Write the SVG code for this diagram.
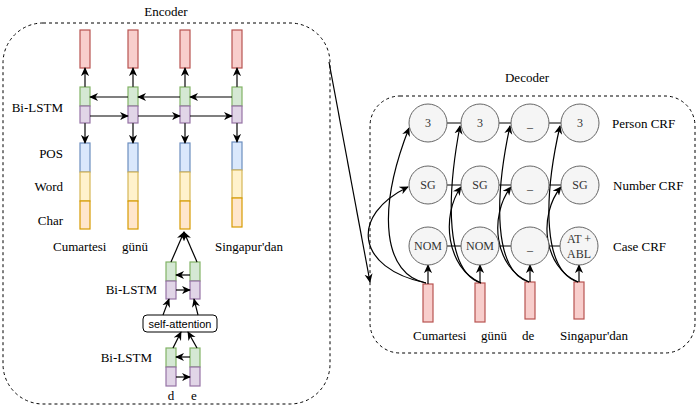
<svg xmlns="http://www.w3.org/2000/svg" width="698" height="411" viewBox="0 0 698 411">
<style>
text{font-family:"Liberation Serif","Times New Roman",serif;font-size:13px;fill:#000}
.ct{font-size:12px;fill:#333;text-anchor:middle}
.sa{font-family:"Liberation Sans",Arial,sans-serif;font-size:11px;text-anchor:middle}
.box{fill:none;stroke:#000;stroke-dasharray:3 3;stroke-width:1}
.red{fill:#f8cecc;stroke:#b85450;stroke-width:1.2}
.grn{fill:#d5e8d4;stroke:#82b366;stroke-width:1.2}
.pur{fill:#e1d5e7;stroke:#9673a6;stroke-width:1.2}
.blu{fill:#dae8fc;stroke:#6c8ebf;stroke-width:1.2}
.yel{fill:#fff2cc;stroke:#d6b656;stroke-width:1.2}
.org{fill:#ffe6cc;stroke:#d79b00;stroke-width:1.2}
.cir{fill:#f5f5f5;stroke:#666;stroke-width:1}
.ar{fill:none;stroke:#000;stroke-width:1.2;marker-end:url(#ah)}
.va{fill:none;stroke:#444;stroke-width:1.6;marker-end:url(#ah)}
.ln{fill:none;stroke:#000;stroke-width:1}
.end{text-anchor:end}
.mid{text-anchor:middle}
</style>
<defs>
<marker id="ah" viewBox="0 0 10 10" refX="9" refY="5" markerWidth="9" markerHeight="9" markerUnits="userSpaceOnUse" orient="auto">
<path d="M0,0.5 L10,5 L0,9.5 L3,5 z" fill="#000"/>
</marker>
</defs>

<g id="encoder-frame">
<rect class="box" x="3" y="23" width="327" height="381" rx="40" ry="40"/>
<text class="mid" x="166" y="16">Encoder</text>
</g>
<g id="decoder-frame">
<rect class="box" x="370" y="96" width="325" height="257" rx="30" ry="30"/>
<text class="mid" x="527" y="82">Decoder</text>
</g>

<g id="enc-labels">
<text class="end" x="63" y="112">Bi-LSTM</text>
<text class="end" x="63" y="158">POS</text>
<text class="end" x="63" y="191">Word</text>
<text class="end" x="63" y="225">Char</text>
<text x="53" y="251">Cumartesi</text>
<text x="122" y="251">günü</text>
<text x="215" y="251">Singapur'dan</text>
<text class="end" x="157" y="294">Bi-LSTM</text>
<text class="end" x="152" y="362">Bi-LSTM</text>
<text class="mid" x="171" y="400">d</text>
<text class="mid" x="194" y="400">e</text>
</g>

<g id="enc-col1">
<rect class="red" x="80" y="30" width="10" height="38"/>
<rect class="grn" x="80" y="87" width="10" height="19"/>
<rect class="pur" x="80" y="106" width="10" height="17"/>
<rect class="blu" x="80" y="143" width="10" height="29"/>
<rect class="yel" x="80" y="172" width="10" height="29"/>
<rect class="org" x="80" y="201" width="10" height="28"/>
</g>
<g id="enc-col2">
<rect class="red" x="128" y="30" width="10" height="38"/>
<rect class="grn" x="128" y="87" width="10" height="19"/>
<rect class="pur" x="128" y="106" width="10" height="17"/>
<rect class="blu" x="128" y="143" width="10" height="29"/>
<rect class="yel" x="128" y="172" width="10" height="29"/>
<rect class="org" x="128" y="201" width="10" height="28"/>
</g>
<g id="enc-col3">
<rect class="red" x="180" y="30" width="10" height="38"/>
<rect class="grn" x="180" y="87" width="10" height="19"/>
<rect class="pur" x="180" y="106" width="10" height="17"/>
<rect class="blu" x="180" y="143" width="10" height="29"/>
<rect class="yel" x="180" y="172" width="10" height="29"/>
<rect class="org" x="180" y="201" width="10" height="28"/>
</g>
<g id="enc-col4">
<rect class="red" x="232" y="30" width="10" height="38"/>
<rect class="grn" x="232" y="87" width="10" height="19"/>
<rect class="pur" x="232" y="106" width="10" height="17"/>
<rect class="blu" x="232" y="142" width="10" height="28"/>
<rect class="yel" x="232" y="170" width="10" height="28"/>
<rect class="org" x="232" y="198" width="10" height="29"/>
</g>

<g id="char-lstm-top">
<rect class="grn" x="166" y="262" width="10" height="19"/>
<rect class="pur" x="166" y="281" width="10" height="18"/>
<rect class="grn" x="190" y="262" width="10" height="19"/>
<rect class="pur" x="190" y="281" width="10" height="18"/>
</g>
<g id="self-attention">
<rect x="143" y="315" width="74" height="17" rx="4" ry="4" fill="#fff" stroke="#000" stroke-width="1"/>
<text class="sa" x="180" y="327.5">self-attention</text>
</g>
<g id="char-lstm-bottom">
<rect class="grn" x="166" y="348" width="10" height="19"/>
<rect class="pur" x="166" y="367" width="10" height="19"/>
<rect class="grn" x="190" y="348" width="10" height="19"/>
<rect class="pur" x="190" y="367" width="10" height="19"/>
</g>

<g id="dec-labels">
<text x="612" y="128">Person CRF</text>
<text x="613" y="190">Number CRF</text>
<text x="613" y="251">Case CRF</text>
<text x="413" y="340">Cumartesi</text>
<text x="481" y="340">günü</text>
<text x="522" y="340">de</text>
<text x="560" y="340">Singapur'dan</text>
</g>

<g id="dec-bars">
<rect class="red" x="423" y="284" width="10" height="38"/>
<rect class="red" x="475" y="283" width="10" height="39"/>
<rect class="red" x="525" y="282" width="10" height="37"/>
<rect class="red" x="574" y="282" width="10" height="37"/>
</g>

<g id="connectors">
<line class="va" x1="85" y1="87" x2="85" y2="68"/>
<line class="va" x1="133" y1="87" x2="133" y2="68"/>
<line class="va" x1="185" y1="87" x2="185" y2="68"/>
<line class="va" x1="237" y1="87" x2="237" y2="68"/>
<line class="va" x1="85" y1="123" x2="85" y2="143"/>
<line class="va" x1="133" y1="123" x2="133" y2="143"/>
<line class="va" x1="185" y1="123" x2="185" y2="143"/>
<line class="va" x1="237" y1="123" x2="237" y2="142"/>
<line class="ar" x1="232" y1="97" x2="190" y2="97"/>
<line class="ar" x1="180" y1="97" x2="138" y2="97"/>
<line class="ar" x1="128" y1="97" x2="90" y2="97"/>
<line class="ar" x1="90" y1="116" x2="128" y2="116"/>
<line class="ar" x1="138" y1="116" x2="180" y2="116"/>
<line class="ar" x1="190" y1="116" x2="232" y2="116"/>
<line class="ar" x1="171" y1="262" x2="184" y2="232"/>
<line class="ar" x1="197" y1="262" x2="184" y2="232"/>
<line class="ar" x1="190" y1="275" x2="176" y2="275"/>
<line class="ar" x1="176" y1="290" x2="190" y2="290"/>
<line class="ar" x1="163" y1="315" x2="169" y2="299"/>
<line class="ar" x1="198" y1="315" x2="194" y2="299"/>
<line class="ar" x1="173" y1="348" x2="181" y2="332"/>
<line class="ar" x1="197" y1="348" x2="188" y2="332"/>
<line class="ar" x1="190" y1="357" x2="176" y2="357"/>
<line class="ar" x1="176" y1="377" x2="190" y2="377"/>
<line class="ar" x1="329" y1="62" x2="370" y2="282"/>
<line class="ln" x1="447" y1="123" x2="461" y2="123"/>
<line class="ln" x1="499" y1="123" x2="511" y2="123"/>
<line class="ln" x1="549" y1="123" x2="561" y2="123"/>
<line class="ln" x1="447" y1="185" x2="461" y2="185"/>
<line class="ln" x1="499" y1="185" x2="511" y2="185"/>
<line class="ln" x1="549" y1="185" x2="561" y2="185"/>
<line class="ln" x1="447" y1="246" x2="461" y2="246"/>
<line class="ln" x1="499" y1="246" x2="511" y2="246"/>
<line class="ln" x1="549" y1="246" x2="560" y2="246"/>
<line class="ar" x1="428" y1="284" x2="428" y2="265"/>
<line class="ar" x1="480" y1="283" x2="480" y2="265"/>
<line class="ar" x1="530" y1="282" x2="530" y2="265"/>
<line class="ar" x1="579" y1="282" x2="579" y2="265"/>
<path class="ar" d="M426,283 C355,268 350,215 408,187"/>
<path class="ar" d="M426,283 C385,275 375,215 409,128"/>
<path class="ar" d="M481,283 C446,268 441,215 461,187"/>
<path class="ar" d="M481,283 C446,272 446,200 460,126"/>
<path class="ar" d="M529,282 C494,267 489,215 511,187"/>
<path class="ar" d="M529,282 C494,271 494,200 510,126"/>
<path class="ar" d="M578,282 C543,267 538,215 561,187"/>
<path class="ar" d="M578,282 C543,271 543,200 560,126"/>
</g>

<g id="person-1"><circle class="cir" cx="428" cy="123" r="19"/><text class="ct" x="428" y="127">3</text></g>
<g id="person-2"><circle class="cir" cx="480" cy="123" r="19"/><text class="ct" x="480" y="127">3</text></g>
<g id="person-3"><circle class="cir" cx="530" cy="123" r="19"/><text class="ct" x="530" y="127">_</text></g>
<g id="person-4"><circle class="cir" cx="580" cy="123" r="19"/><text class="ct" x="580" y="127">3</text></g>
<g id="number-1"><circle class="cir" cx="428" cy="185" r="19"/><text class="ct" x="428" y="189">SG</text></g>
<g id="number-2"><circle class="cir" cx="480" cy="185" r="19"/><text class="ct" x="480" y="189">SG</text></g>
<g id="number-3"><circle class="cir" cx="530" cy="185" r="19"/><text class="ct" x="530" y="189">_</text></g>
<g id="number-4"><circle class="cir" cx="580" cy="185" r="19"/><text class="ct" x="580" y="189">SG</text></g>
<g id="case-1"><circle class="cir" cx="428" cy="246" r="19"/><text class="ct" x="428" y="250">NOM</text></g>
<g id="case-2"><circle class="cir" cx="480" cy="246" r="19"/><text class="ct" x="480" y="250">NOM</text></g>
<g id="case-3"><circle class="cir" cx="530" cy="246" r="19"/><text class="ct" x="530" y="250">_</text></g>
<g id="case-4"><circle class="cir" cx="579" cy="246" r="19"/><text class="ct" x="579" y="243">AT +</text><text class="ct" x="579" y="258">ABL</text></g>
</svg>
